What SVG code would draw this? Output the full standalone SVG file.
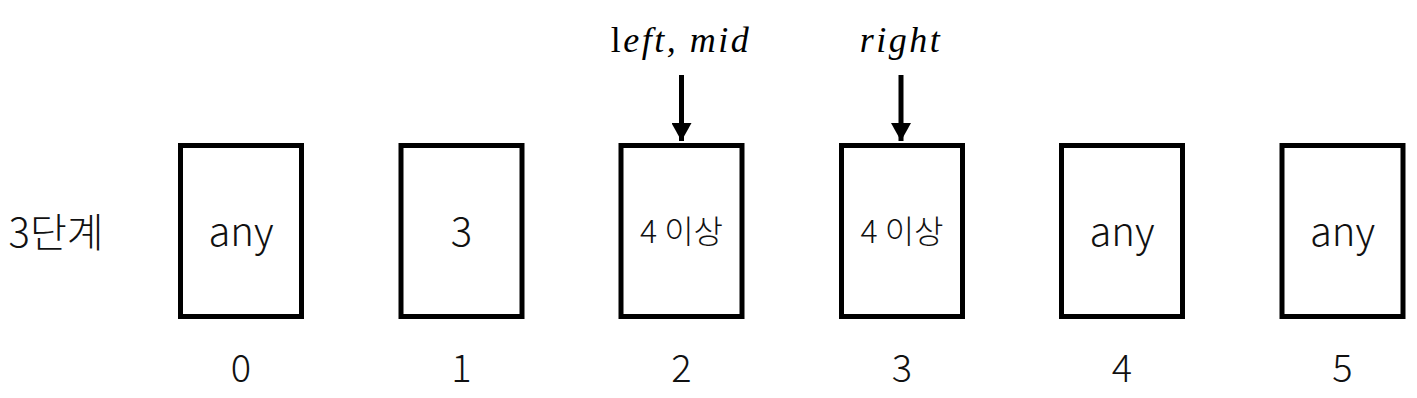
<svg xmlns="http://www.w3.org/2000/svg" width="1417" height="398" viewBox="0 0 1417 398">
<style>
.box{fill:#fff;stroke:#000;stroke-width:5}
.t{font-family:"Noto Sans CJK KR","Noto Sans",sans-serif;font-weight:300;fill:#111;text-anchor:middle}
.v{font-size:40px}
.k{font-size:32px}
.idx{font-size:38px}
.m{font-family:"Liberation Serif",serif;font-style:italic;font-size:36px;letter-spacing:2.5px;text-anchor:middle;fill:#000}
.ar{stroke:#000;stroke-width:5;fill:none}
</style>
<defs>
<marker id="ah" markerWidth="4" markerHeight="4" refX="3.6" refY="2" orient="auto" markerUnits="strokeWidth">
<path d="M0,0 L3.6,2 L0,4 Z" fill="#000"/>
</marker>
</defs>
<rect width="1417" height="398" fill="#fff"/>
<text class="t" x="56" y="247" style="font-size:40px">3단계</text>
<g id="n0"><rect class="box" x="180.5" y="145.5" width="121" height="171"/><text class="t v" x="241" y="246">any</text><text class="t idx" x="241" y="382">0</text></g>
<g id="n1"><rect class="box" x="401" y="145.5" width="121" height="171"/><text class="t v" x="461.5" y="246">3</text><text class="t idx" x="461.5" y="382">1</text></g>
<g id="n2"><rect class="box" x="621" y="145.5" width="121" height="171"/><text class="t k" x="681.5" y="243">4 이상</text><text class="t idx" x="681.5" y="382">2</text></g>
<g id="n3"><rect class="box" x="841.5" y="145.5" width="121" height="171"/><text class="t k" x="902" y="243">4 이상</text><text class="t idx" x="902" y="382">3</text></g>
<g id="n4"><rect class="box" x="1061.5" y="145.5" width="121" height="171"/><text class="t v" x="1122" y="246">any</text><text class="t idx" x="1122" y="382">4</text></g>
<g id="n5"><rect class="box" x="1282" y="145.5" width="121" height="171"/><text class="t v" x="1342.5" y="246">any</text><text class="t idx" x="1342.5" y="382">5</text></g>
<g id="labels">
<text class="m" x="681" y="52"><tspan font-style="normal">l</tspan>eft, mid</text>
<text class="m" x="901" y="52">right</text>
</g>
<g id="connectors">
<line class="ar" x1="681.5" y1="75" x2="681.5" y2="141" marker-end="url(#ah)"/>
<line class="ar" x1="901" y1="75" x2="901" y2="141" marker-end="url(#ah)"/>
</g>
</svg>
